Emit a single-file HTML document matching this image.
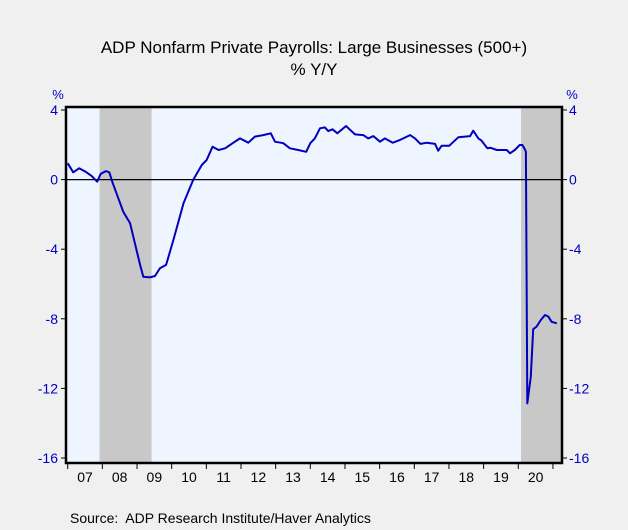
<!DOCTYPE html>
<html><head><meta charset="utf-8"><style>
body{margin:0;background:#f0f0f0;font-family:"Liberation Sans",sans-serif;}
svg{display:block}
</style></head><body>
<svg id="chart" width="628" height="530" xmlns="http://www.w3.org/2000/svg">
<rect width="628" height="530" fill="#f0f0f0"/>
<text x="314" y="53" text-anchor="middle" font-size="17" fill="#000">ADP Nonfarm Private Payrolls: Large Businesses (500+)</text>
<text x="314" y="75" text-anchor="middle" font-size="17" fill="#000">% Y/Y</text>
<text x="58" y="99" text-anchor="middle" font-size="13" fill="#0000c0">%</text>
<text x="572" y="99" text-anchor="middle" font-size="13" fill="#0000c0">%</text>
<g id="plot"></g>
<text x="70" y="523" font-size="14" fill="#000">Source:&#160; ADP Research Institute/Haver Analytics</text>
</svg>
<script>
const yearLabels=["07","08","09","10","11","12","13","14","15","16","17","18","19","20"];
const yTicks=[4,0,-4,-8,-12,-16];
const recessionStarts=[2007.92,2020.08];
const recessionEnds=[2009.42,2021.3];
const dates=[2007.0,2007.16,2007.33,2007.52,2007.69,2007.85,2007.95,2008.1,2008.2,2008.3,2008.46,2008.6,2008.8,2008.94,2009.09,2009.18,2009.37,2009.52,2009.66,2009.84,2010.05,2010.34,2010.62,2010.87,2011.01,2011.18,2011.35,2011.54,2011.78,2011.97,2012.21,2012.4,2012.64,2012.86,2012.98,2013.22,2013.41,2013.65,2013.88,2014.0,2014.13,2014.28,2014.42,2014.52,2014.64,2014.78,2015.03,2015.29,2015.53,2015.67,2015.82,2016.01,2016.15,2016.38,2016.59,2016.88,2017.02,2017.18,2017.36,2017.6,2017.69,2017.79,2018.01,2018.27,2018.61,2018.7,2018.85,2018.94,2019.11,2019.2,2019.38,2019.67,2019.76,2019.9,2020.04,2020.12,2020.2,2020.22,2020.26,2020.36,2020.43,2020.53,2020.65,2020.77,2020.87,2020.96,2021.11];
const values=[0.94,0.42,0.65,0.45,0.21,-0.12,0.32,0.49,0.42,-0.21,-1.07,-1.84,-2.51,-3.66,-4.9,-5.58,-5.62,-5.54,-5.1,-4.9,-3.47,-1.36,-0.02,0.84,1.13,1.89,1.7,1.8,2.12,2.37,2.12,2.47,2.56,2.66,2.18,2.09,1.8,1.7,1.6,2.09,2.37,2.95,3.0,2.79,2.89,2.66,3.08,2.6,2.56,2.37,2.5,2.18,2.37,2.12,2.28,2.56,2.37,2.05,2.12,2.05,1.66,1.95,1.95,2.43,2.5,2.81,2.37,2.24,1.8,1.83,1.7,1.7,1.51,1.7,1.99,1.99,1.7,1.6,-12.86,-11.33,-8.6,-8.45,-8.07,-7.78,-7.88,-8.17,-8.26];

const L=66,R=562,T=107,B=463;
const x=t=>67.7+(t-2007)*34.66;
const y=v=>179.6-v*17.4;
const NS="http://www.w3.org/2000/svg";
const g=document.getElementById('plot');
function mk(tag,attrs,parent){const e=document.createElementNS(NS,tag);for(const k in attrs)e.setAttribute(k,attrs[k]);(parent||g).appendChild(e);return e;}

const bg=mk('rect',{x:L,y:T,width:R-L,height:B-T,fill:'#eef5ff'});


for(let i=0;i<recessionStarts.length;i++){
  const x0=x(recessionStarts[i]),x1=Math.min(x(recessionEnds[i]),R);
  const r=mk('rect',{x:x0,y:T,width:x1-x0,height:B-T,fill:'#c8c8c8'});
  
  
}
const zl=mk('line',{x1:L,x2:R,y1:y(0),y2:y(0),stroke:'#000','stroke-width':1.2});



yTicks.forEach(v=>{
  const yy=y(v);
  const t1=mk('line',{x1:L-5,x2:L,y1:yy,y2:yy,stroke:'#000','stroke-width':1});
  
  
  const t2=mk('line',{x1:R,x2:R+5,y1:yy,y2:yy,stroke:'#000','stroke-width':1});
  
  
  const a=mk('text',{x:L-8,y:yy+5,'text-anchor':'end','font-size':14,fill:'#0000c0'});a.textContent=v;
  
  
  const b=mk('text',{x:R+7,y:yy+5,'text-anchor':'start','font-size':14,fill:'#0000c0'});b.textContent=v;
  
  
});
yearLabels.forEach((lab,i)=>{
  const xx=x(2007+i);
  const t=mk('line',{x1:xx,x2:xx,y1:B,y2:B+6,stroke:'#000','stroke-width':1});
  
  
  const tx=mk('text',{x:x(2007.5+i),y:B+19,'text-anchor':'middle','font-size':14,fill:'#000'});tx.textContent=lab;
  
  
});
const xe=x(2007+yearLabels.length);
const te=mk('line',{x1:xe,x2:xe,y1:B,y2:B+6,stroke:'#000','stroke-width':1});



const pts=dates.map((d,i)=>x(d).toFixed(1)+','+y(values[i]).toFixed(1)).join(' ');
const line=mk('polyline',{points:pts,fill:'none',stroke:'#0000c0','stroke-width':2,'stroke-linejoin':'round'});



const fr=mk('rect',{x:L,y:T,width:R-L,height:B-T,fill:'none',stroke:'#000','stroke-width':2.5});


</script>
</body></html>
